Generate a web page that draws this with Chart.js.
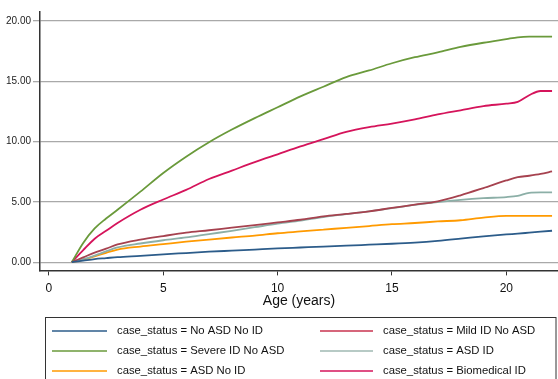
<!DOCTYPE html>
<html>
<head>
<meta charset="utf-8">
<script src="https://cdn.jsdelivr.net/npm/chart.js@4/dist/chart.umd.min.js"></script>
<style>
  html, body { margin: 0; padding: 0; background: #ffffff; }
  #wrap { width: 558px; height: 379px; position: relative; }
</style>
</head>
<body>
<div id="wrap"><canvas id="c" width="558" height="379"></canvas></div>
<script>
// ---- data ----
const ages = [1, 1.5, 2, 2.5, 3, 4, 5, 6, 7, 8, 9, 10, 11, 12, 13, 14, 15, 16, 17, 18, 19, 20, 20.5, 21, 21.5, 22];

const noAsdNoId    = [0, 0.13, 0.26, 0.34, 0.42, 0.53, 0.65, 0.76, 0.87, 0.96, 1.05, 1.14, 1.22, 1.30, 1.37, 1.45, 1.53, 1.63, 1.77, 1.95, 2.14, 2.30, 2.37, 2.45, 2.53, 2.61];
const mildIdNoAsd  = [0, 0.40, 0.80, 1.12, 1.47, 1.87, 2.17, 2.45, 2.65, 2.87, 3.08, 3.30, 3.52, 3.80, 4.00, 4.22, 4.50, 4.77, 5.05, 5.55, 6.15, 6.78, 7.05, 7.17, 7.32, 7.53];
const severeIdNoAsd= [0, 1.60, 2.80, 3.62, 4.35, 5.85, 7.40, 8.75, 9.95, 11.00, 11.95, 12.85, 13.75, 14.55, 15.35, 15.90, 16.50, 17.00, 17.40, 17.85, 18.20, 18.50, 18.65, 18.70, 18.70, 18.70];
const asdId        = [0, 0.25, 0.55, 0.90, 1.22, 1.55, 1.82, 2.05, 2.33, 2.60, 2.90, 3.20, 3.45, 3.75, 3.98, 4.22, 4.48, 4.75, 4.98, 5.17, 5.31, 5.40, 5.50, 5.75, 5.79, 5.79];
const asdNoId      = [0, 0.20, 0.48, 0.78, 1.05, 1.30, 1.50, 1.70, 1.88, 2.05, 2.20, 2.40, 2.55, 2.70, 2.85, 3.00, 3.15, 3.25, 3.38, 3.48, 3.70, 3.84, 3.84, 3.84, 3.84, 3.84];
const biomedicalId = [0, 1.00, 1.95, 2.60, 3.25, 4.35, 5.20, 6.00, 6.90, 7.60, 8.30, 8.95, 9.60, 10.20, 10.80, 11.20, 11.50, 11.85, 12.25, 12.60, 12.95, 13.15, 13.30, 13.85, 14.20, 14.20];

const seriesLabels = [
  'case_status = No ASD No ID',
  'case_status = Mild ID No ASD',
  'case_status = Severe ID No ASD',
  'case_status = ASD ID',
  'case_status = ASD No ID',
  'case_status = Biomedical ID'
];
const seriesValues = [noAsdNoId, mildIdNoAsd, severeIdNoAsd, asdId, asdNoId, biomedicalId];
const xTickValues = [0, 5, 10, 15, 20];
const yTickValues = [0, 5, 10, 15, 20];
const xTitle = 'Age (years)';

// ---- styles ----
const colors = ['#2c5c8a', '#a6424f', '#6a9a3b', '#8cafa7', '#ff9a00', '#d5145b'];
const legendSampleColors = ['#2c5c8a', '#c8334f', '#6a9a3b', '#9fb8b2', '#ff9a00', '#d5145b'];
const FONT = '"Liberation Sans", Arial, Helvetica, sans-serif';

const datasets = seriesValues.map((vals, i) => ({
  label: seriesLabels[i],
  data: ages.map((a, j) => ({ x: a, y: vals[j] })),
  borderColor: colors[i],
  backgroundColor: colors[i],
  borderWidth: 1.8,
  pointRadius: 0,
  fill: false,
  cubicInterpolationMode: 'monotone'
}));

const boxLegend = {
  id: 'boxLegend',
  afterDraw(chart) {
    const ctx = chart.ctx;
    ctx.save();
    ctx.strokeStyle = '#333333';
    ctx.lineWidth = 1;
    ctx.strokeRect(45.5, 317.5, 510.5, 70);
    ctx.font = '11.3px ' + FONT;
    ctx.textBaseline = 'middle';
    ctx.textAlign = 'left';
    const rowY = [331, 351, 371];
    const cols = [{ l0: 52, l1: 107, t: 117 }, { l0: 320, l1: 373, t: 383 }];
    for (let i = 0; i < chart.data.datasets.length; i++) {
      const ds = chart.data.datasets[i];
      const c = cols[i % 2];
      const y = rowY[Math.floor(i / 2)];
      ctx.beginPath();
      ctx.lineWidth = 1.5;
      ctx.strokeStyle = legendSampleColors[i];
      ctx.moveTo(c.l0, y);
      ctx.lineTo(c.l1, y);
      ctx.stroke();
      ctx.fillStyle = '#111111';
      ctx.fillText(ds.label, c.t, y);
    }
    ctx.restore();
  }
};

new Chart(document.getElementById('c'), {
  type: 'line',
  data: { datasets },
  options: {
    responsive: false,
    animation: false,
    layout: { padding: { top: 12, right: 0, left: 0, bottom: 70.6 } },
    plugins: {
      legend: { display: false },
      tooltip: { enabled: false }
    },
    scales: {
      x: {
        type: 'linear',
        min: -0.39,
        max: 22.26,
        afterBuildTicks: (s) => { s.ticks = xTickValues.map(v => ({ value: v })); },
        ticks: {
          includeBounds: false,
          autoSkip: false,
          maxRotation: 0,
          padding: 7,
          color: '#111111',
          font: { family: FONT, size: 12, lineHeight: 1 },
          callback: (v) => String(v)
        },
        grid: {
          drawOnChartArea: false,
          drawTicks: true,
          tickLength: 5,
          color: '#333333',
          lineWidth: 1
        },
        border: { display: true, color: '#333333', width: 1.5 },
        title: {
          display: true,
          text: xTitle,
          color: '#111111',
          font: { family: FONT, size: 14, lineHeight: 1 },
          padding: { top: -7, bottom: 0 }
        }
      },
      y: {
        type: 'linear',
        min: -0.68,
        max: 20.75,
        afterBuildTicks: (s) => { s.ticks = yTickValues.map(v => ({ value: v })); },
        afterFit: (s) => { s.width = 40; },
        ticks: {
          includeBounds: false,
          padding: 2,
          color: '#222222',
          font: { family: FONT, size: 10 },
          callback: (v) => Number(v).toFixed(2)
        },
        grid: {
          drawOnChartArea: true,
          drawTicks: true,
          tickLength: 7,
          color: '#a9a9a9',
          lineWidth: 1.3
        },
        border: { display: true, color: '#333333', width: 1.5 }
      }
    }
  },
  plugins: [boxLegend]
});
</script>
</body>
</html>
